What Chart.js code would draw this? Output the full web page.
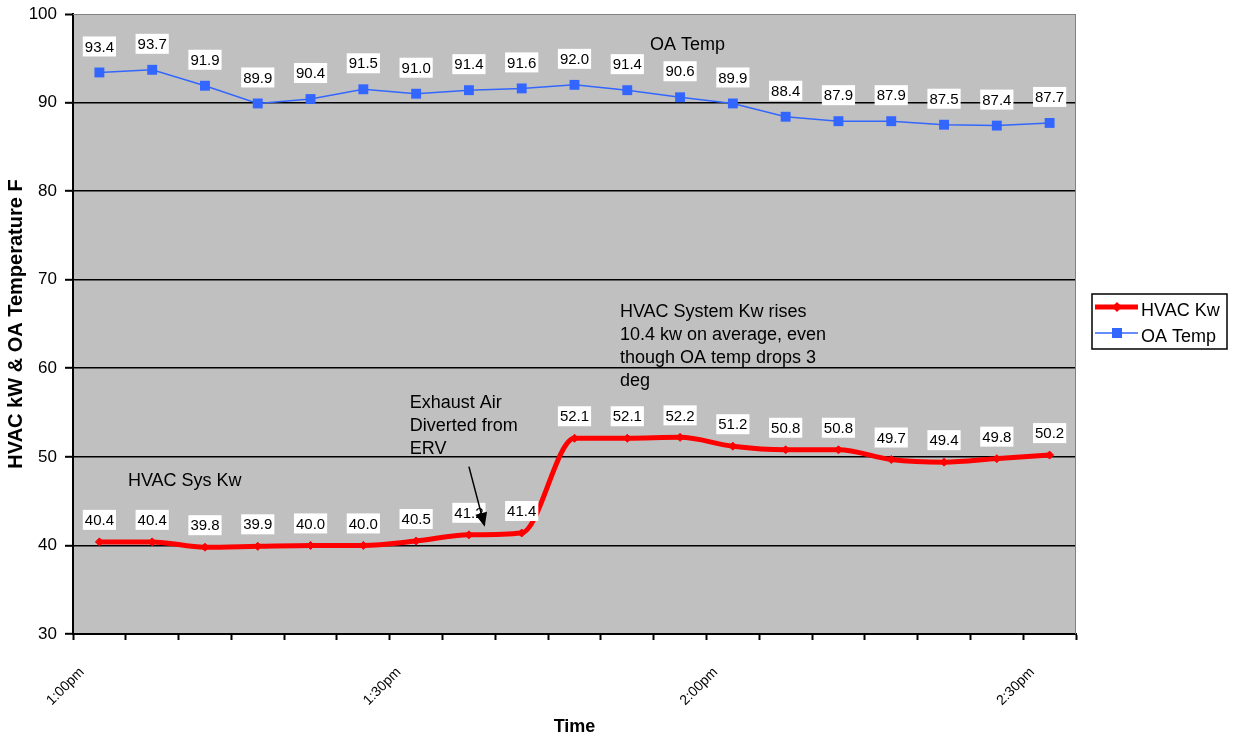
<!DOCTYPE html>
<html>
<head>
<meta charset="utf-8">
<script src="https://cdn.jsdelivr.net/npm/chart.js@4"></script>
<style>
  html, body { margin: 0; padding: 0; background: #fff; }
  #wrap { width: 1236px; height: 738px; }
</style>
</head>
<body>
<div id="wrap"><canvas id="myChart" width="1236" height="738"></canvas></div>
<script>
const timeLabels = ['1:00pm', '1:30pm', '2:00pm', '2:30pm'];
const hvacKw = [40.4, 40.4, 39.8, 39.9, 40.0, 40.0, 40.5, 41.2, 41.4, 52.1, 52.1, 52.2, 51.2, 50.8, 50.8, 49.7, 49.4, 49.8, 50.2];
const oaTemp = [93.4, 93.7, 91.9, 89.9, 90.4, 91.5, 91.0, 91.4, 91.6, 92.0, 91.4, 90.6, 89.9, 88.4, 87.9, 87.9, 87.5, 87.4, 87.7];
const yTicks = [30, 40, 50, 60, 70, 80, 90, 100];

const FONT = 'Arial, "Liberation Sans", sans-serif';
const RED = '#ff0000';
const BLUE = '#3366ff';

// notes sit in data coordinates (x = slot index, y = value)
const notes = [
    { x: 10.93, y: 96.5, lines: ['OA Temp'] },
    { x: 10.36, y: 66.4, lines: ['HVAC System Kw rises', '10.4 kw on average, even', 'though OA temp drops 3', 'deg'] },
    { x: 6.38, y: 56.1, lines: ['Exhaust Air', 'Diverted from', 'ERV'] },
    { x: 1.04, y: 47.3, lines: ['HVAC Sys Kw'] }
];

function toPoints(arr) {
    return arr.map((v, i) => ({ x: i + 0.5, y: v }));
}

const extras = {
    id: 'extras',
    beforeDraw(chart) {
        const { ctx, chartArea: a } = chart;
        ctx.save();
        ctx.fillStyle = '#c0c0c0';
        ctx.fillRect(a.left, a.top, a.right - a.left, a.bottom - a.top);
        ctx.restore();
    },
    afterDatasetsDraw(chart) {
        const { ctx, chartArea: a } = chart;
        const xs = chart.scales.x, ys = chart.scales.y;
        ctx.save();

        // gray top / right frame
        ctx.strokeStyle = '#808080';
        ctx.lineWidth = 1;
        ctx.beginPath();
        ctx.moveTo(a.left, a.top + 0.5);
        ctx.lineTo(a.right - 0.5, a.top + 0.5);
        ctx.lineTo(a.right - 0.5, a.bottom);
        ctx.stroke();

        // value labels with white boxes
        ctx.font = '15px ' + FONT;
        ctx.textAlign = 'center';
        ctx.textBaseline = 'middle';
        chart.data.datasets.forEach((ds, di) => {
            const meta = chart.getDatasetMeta(di);
            meta.data.forEach((pt, i) => {
                const txt = ds.data[i].y.toFixed(1);
                const w = ctx.measureText(txt).width + 4;
                const cy = pt.y - (di === 0 ? 22 : 26);
                ctx.fillStyle = '#fff';
                ctx.fillRect(pt.x - w / 2, cy - 10, w, 20);
                ctx.fillStyle = '#000';
                ctx.fillText(txt, pt.x, cy + 1);
            });
        });

        // text notes
        ctx.font = '18px ' + FONT;
        ctx.textAlign = 'left';
        notes.forEach(n => {
            const px = xs.getPixelForValue(n.x);
            const py = ys.getPixelForValue(n.y);
            n.lines.forEach((l, k) => ctx.fillText(l, px, py + k * 23));
        });

        // arrow
        const x1 = xs.getPixelForValue(7.5), y1 = ys.getPixelForValue(48.9);
        const x2 = xs.getPixelForValue(7.8), y2 = ys.getPixelForValue(42.1);
        const ang = Math.atan2(y2 - y1, x2 - x1);
        ctx.strokeStyle = '#000';
        ctx.fillStyle = '#000';
        ctx.lineWidth = 1.5;
        ctx.beginPath();
        ctx.moveTo(x1, y1);
        ctx.lineTo(x2 - 8 * Math.cos(ang), y2 - 8 * Math.sin(ang));
        ctx.stroke();
        ctx.beginPath();
        ctx.moveTo(x2, y2);
        ctx.lineTo(x2 - 14 * Math.cos(ang) + 6 * Math.sin(ang), y2 - 14 * Math.sin(ang) - 6 * Math.cos(ang));
        ctx.lineTo(x2 - 14 * Math.cos(ang) - 6 * Math.sin(ang), y2 - 14 * Math.sin(ang) + 6 * Math.cos(ang));
        ctx.closePath();
        ctx.fill();

        // legend box
        const lx = a.right + 16, ly = 294;
        ctx.fillStyle = '#fff';
        ctx.fillRect(lx, ly, 135, 55);
        ctx.strokeStyle = '#000';
        ctx.lineWidth = 1.5;
        ctx.strokeRect(lx, ly, 135, 55);

        ctx.strokeStyle = RED;
        ctx.lineWidth = 5;
        ctx.beginPath();
        ctx.moveTo(lx + 3, ly + 13);
        ctx.lineTo(lx + 46, ly + 13);
        ctx.stroke();
        ctx.fillStyle = RED;
        ctx.beginPath();
        ctx.moveTo(lx + 25, ly + 8);
        ctx.lineTo(lx + 30, ly + 13);
        ctx.lineTo(lx + 25, ly + 18);
        ctx.lineTo(lx + 20, ly + 13);
        ctx.closePath();
        ctx.fill();

        ctx.strokeStyle = BLUE;
        ctx.lineWidth = 1.5;
        ctx.beginPath();
        ctx.moveTo(lx + 3, ly + 39);
        ctx.lineTo(lx + 46, ly + 39);
        ctx.stroke();
        ctx.fillStyle = BLUE;
        ctx.fillRect(lx + 20, ly + 34, 10, 10);

        ctx.fillStyle = '#000';
        ctx.font = '18px ' + FONT;
        ctx.textAlign = 'left';
        ctx.fillText('HVAC Kw', lx + 49, ly + 17);
        ctx.fillText('OA Temp', lx + 49, ly + 43);
        ctx.restore();
    }
};

document.addEventListener('DOMContentLoaded', function () {
    let ctx = document.getElementById('myChart').getContext('2d');
    new Chart(ctx, {
        type: 'line',
        data: {
            datasets: [{
                label: 'HVAC Kw',
                data: toPoints(hvacKw),
                borderColor: RED,
                backgroundColor: RED,
                borderWidth: 5,
                cubicInterpolationMode: 'monotone',
                pointStyle: 'rectRot',
                pointRadius: 4,
                pointBorderWidth: 1
            }, {
                label: 'OA Temp',
                data: toPoints(oaTemp),
                borderColor: BLUE,
                backgroundColor: BLUE,
                borderWidth: 1.5,
                tension: 0,
                pointStyle: 'rect',
                pointRadius: 7,
                pointBorderWidth: 0
            }]
        },
        options: {
            responsive: false,
            animation: false,
            layout: { padding: { top: 14, right: 160, left: 0, bottom: 0 } },
            plugins: {
                legend: { display: false },
                tooltip: { enabled: false }
            },
            scales: {
                x: {
                    type: 'linear',
                    min: 0,
                    max: 19,
                    afterFit: s => { s.height = 104; },
                    afterBuildTicks: s => {
                        s.ticks = [];
                        for (let i = 0; i <= 19; i++) s.ticks.push({ value: i });
                    },
                    ticks: {
                        autoSkip: false,
                        minRotation: 45,
                        maxRotation: 45,
                        color: '#000',
                        font: { family: FONT, size: 14 },
                        padding: 24,
                        labelOffset: 9,
                        callback: v => (v % 6 === 0 ? timeLabels[v / 6] : '')
                    },
                    grid: {
                        drawOnChartArea: false,
                        tickLength: 6,
                        tickColor: '#000',
                        tickWidth: 2
                    },
                    border: { color: '#000', width: 2 },
                    title: {
                        display: true,
                        text: 'Time',
                        color: '#000',
                        font: { family: FONT, size: 18, weight: 'bold' },
                        padding: { top: 0, bottom: 0 }
                    }
                },
                y: {
                    min: 30,
                    max: 100,
                    afterFit: s => { s.width = 73; s.paddingTop = 0; },
                    afterBuildTicks: s => { s.ticks = yTicks.map(v => ({ value: v })); },
                    ticks: {
                        color: '#000',
                        font: { family: FONT, size: 17 },
                        padding: 8
                    },
                    grid: {
                        color: c => (c.tick && c.tick.value === 100 ? '#808080' : '#000'),
                        lineWidth: c => (c.tick && c.tick.value === 100 ? 1 : 1.6),
                        tickColor: '#000',
                        tickLength: 8,
                        tickWidth: 2
                    },
                    border: { color: '#000', width: 2 },
                    title: {
                        display: true,
                        text: 'HVAC kW & OA Temperature F',
                        color: '#000',
                        font: { family: FONT, size: 20, weight: 'bold' },
                        padding: { top: 4, bottom: 0 }
                    }
                }
            }
        },
        plugins: [extras]
    });
});
</script>
</body>
</html>
